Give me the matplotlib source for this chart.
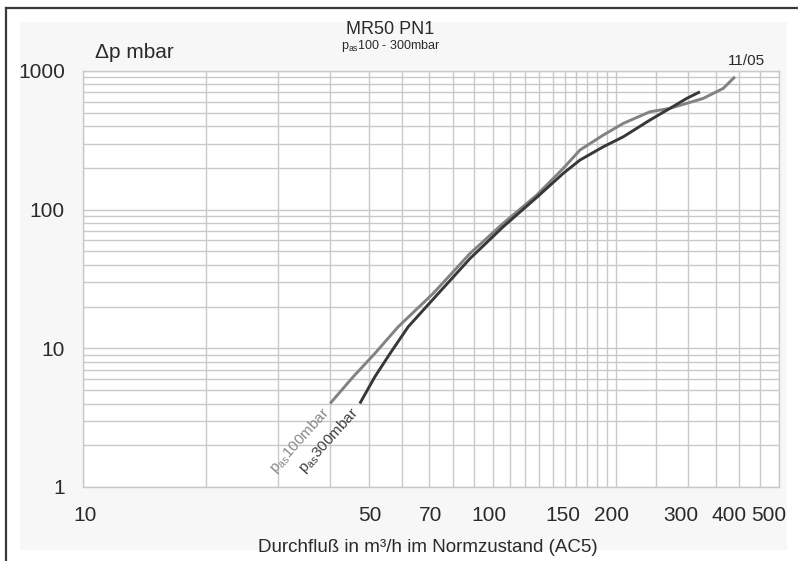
import matplotlib
matplotlib.use("Agg")
import matplotlib.pyplot as plt
from matplotlib.patches import Rectangle
from matplotlib.lines import Line2D
import matplotlib.transforms as mtransforms

plt.rcParams['font.family'] = ['Liberation Sans', 'DejaVu Sans']

# Flow rate (m³/h) and pressure drop (mbar) for the two inlet pressures
flow_100 = [40.1, 45.7, 51.6, 58.8, 71.6, 88.1, 106.1, 128.1, 148.7, 163.3,
            186.2, 208.4, 242.0, 270.8, 326.6, 365.4, 390.3]
dp_100 = [4.0, 6.25, 9.2, 14.3, 24.9, 48.4, 79.7, 127.4, 198.5, 269.0,
          345.0, 419.0, 508.0, 537.6, 634.6, 749.0, 908.0]

flow_300 = [47.4, 51.6, 56.2, 62.2, 73.7, 88.1, 106.1, 128.1, 148.7, 163.3,
            186.2, 208.4, 242.0, 270.8, 297.5, 320.6]
dp_300 = [4.0, 6.25, 9.2, 14.3, 24.9, 44.5, 75.3, 122.6, 182.7, 227.8,
          284.0, 335.5, 442.6, 537.6, 634.0, 708.0]

x_grid = [10, 20, 30, 40, 50, 60, 70, 80, 90, 100, 110, 120, 130, 140, 150,
          160, 170, 180, 190, 200, 250, 300, 350, 400, 450, 500]
x_tick_labels = {10: '10', 50: '50', 70: '70', 100: '100', 150: '150',
                 200: '200', 300: '300', 400: '400', 500: '500'}
y_ticks = [1, 10, 100, 1000]
y_tick_labels = ['1', '10', '100', '1000']

W, H = 798, 561
fig = plt.figure(figsize=(W / 100, H / 100), dpi=100)
fig.patch.set_facecolor('white')

# light panel and the dark frame lines along the top and left edge
fig.patches.append(Rectangle((20 / W, 1 - 550 / H), (787 - 20) / W, (550 - 22) / H,
                             transform=fig.transFigure, facecolor='#f7f7f7',
                             edgecolor='none', zorder=-10))
fig.lines.append(Line2D([6 / W, 1.0], [1 - 8 / H, 1 - 8 / H], transform=fig.transFigure,
                        color='#3a3a3a', linewidth=1.6))
fig.lines.append(Line2D([6 / W, 6 / W], [0.0, 1 - 8 / H], transform=fig.transFigure,
                        color='#3a3a3a', linewidth=1.6))

ax = fig.add_axes([83 / W, 1 - 487 / H, (779 - 83) / W, (487 - 71) / H])
ax.set_facecolor('white')
ax.set_xscale('log')
ax.set_yscale('log')
ax.set_xlim(10, 500)
ax.set_ylim(1, 1000)

grid_color = '#c9c9c9'
ax.set_xticks(x_grid)
ax.set_xticklabels([x_tick_labels.get(v, '') for v in x_grid])
ax.xaxis.set_minor_locator(matplotlib.ticker.NullLocator())
ax.set_yticks(y_ticks)
ax.set_yticklabels(y_tick_labels)
ax.yaxis.set_minor_locator(matplotlib.ticker.LogLocator(base=10, subs=range(2, 10)))
ax.yaxis.set_minor_formatter(matplotlib.ticker.NullFormatter())
ax.grid(True, which='both', axis='both', color=grid_color, linewidth=1.0)
ax.tick_params(axis='both', which='both', length=0, labelsize=15, colors='#2a2a2a')
ax.tick_params(axis='x', pad=14)
ax.tick_params(axis='y', pad=13)
for s in ax.spines.values():
    s.set_color(grid_color)
    s.set_linewidth(1.0)

# nudge the x labels a little, as set on the printed sheet
label_dx = {10: 2, 50: 1, 70: 1, 100: -4, 150: -2, 200: -4, 300: -7, 400: -10, 500: -10}
for v, lab in zip(x_grid, ax.get_xticklabels()):
    if v in label_dx:
        off = mtransforms.ScaledTranslation(label_dx[v] / 100, 0, fig.dpi_scale_trans)
        lab.set_transform(lab.get_transform() + off)

ax.plot(flow_100, dp_100, color='#828282', linewidth=2.1, solid_capstyle='butt',
        solid_joinstyle='round', zorder=3)
ax.plot(flow_300, dp_300, color='#383838', linewidth=2.1, solid_capstyle='butt',
        solid_joinstyle='round', zorder=4)

# curve labels at the lower ends
def curve_label(x, y, text, color, dx, dy):
    off = mtransforms.ScaledTranslation(dx / 100, dy / 100, fig.dpi_scale_trans)
    ax.text(x, y, text, color=color, fontsize=11, rotation=48,
            rotation_mode='anchor', ha='right', va='center',
            transform=ax.transData + off)

curve_label(flow_100[0], dp_100[0], r'p$_{\mathregular{as}}$100mbar', '#8a8a8a', -3, -6)
curve_label(flow_300[0], dp_300[0], r'p$_{\mathregular{as}}$300mbar', '#404040', -3, -6)

fig.text(390 / W, 1 - 30 / H, 'MR50 PN1', ha='center', va='center', fontsize=13, color='#2a2a2a')
fig.text(391 / W, 1 - 46 / H, r'p$_{\mathregular{as}}$100 - 300mbar', ha='center', va='center',
         fontsize=9, color='#2a2a2a')
fig.text(95 / W, 1 - 53 / H, 'Δp mbar', ha='left', va='center', fontsize=15, color='#2a2a2a')
fig.text(746 / W, 1 - 61 / H, '11/05', ha='center', va='center', fontsize=11, color='#2a2a2a')
fig.text(428 / W, 1 - 548 / H, 'Durchfluß in m³/h im Normzustand (AC5)', ha='center',
         va='center', fontsize=13.5, color='#2a2a2a')

fig.savefig('out.png', dpi=100, facecolor='white')
